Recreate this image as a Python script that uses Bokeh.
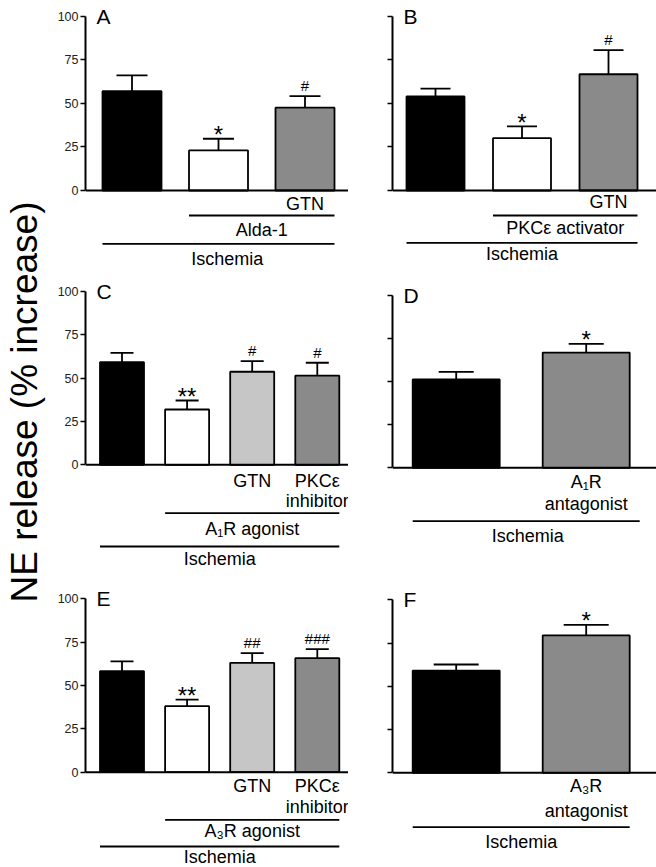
import math
from bokeh.plotting import figure
from bokeh.models import Range1d, FixedTicker, Span, Whisker, TeeHead, ColumnDataSource
from bokeh.layouts import row, column
from bokeh.core.properties import value, field
from bokeh.embed import file_html
from bokeh.resources import INLINE

FONT = "Liberation Sans"
BLACK, WHITE, GRAY, LIGHT = "#000000", "#ffffff", "#8a8a8a", "#c6c6c6"

# ---------------- data ----------------
Y_TITLE = "NE release (% increase)"
Y_TICKS = [0, 25, 50, 75, 100]
GROUP = "Ischemia"

A_values = [57.0, 23.0, 47.5]
A_errors = [9.0, 6.7, 6.7]
A_marks = ["", "*", "#"]
A_fills = [BLACK, WHITE, GRAY]
A_treat = "Alda-1"

B_values = [54.0, 30.0, 66.7]
B_errors = [4.4, 6.8, 13.8]
B_marks = ["", "*", "#"]
B_fills = [BLACK, WHITE, GRAY]
B_treat = "PKCε activator"

C_values = [59.2, 31.9, 53.7, 51.4]
C_errors = [5.4, 5.2, 6.1, 7.5]
C_marks = ["", "**", "#", "#"]
C_fills = [BLACK, WHITE, LIGHT, GRAY]
C_treat = "A₁R agonist"

D_values = [51.3, 66.9]
D_errors = [4.4, 5.0]
D_marks = ["", "*"]
D_fills = [BLACK, GRAY]
D_drug = ["A₁R", "antagonist"]

E_values = [58.3, 38.1, 63.1, 65.8]
E_errors = [5.7, 3.8, 5.6, 5.2]
E_marks = ["", "**", "##", "###"]
E_fills = [BLACK, WHITE, LIGHT, GRAY]
E_treat = "A₃R agonist"

F_values = [59.1, 79.4]
F_errors = [3.5, 6.1]
F_marks = ["", "*"]
F_fills = [BLACK, GRAY]
F_drug = ["A₃R", "antagonist"]

GTN = "GTN"
PKC_INH = ["PKCε", "inhibitor"]


def make_panel(letter, values, errors, marks, fills, g, texts, lines, show_labels):
    n = len(values)
    xs = list(range(1, n + 1))
    frame_w = g["w"] - g["axis"]
    x0 = 1 - g["first"] / g["step"]
    x1 = x0 + frame_w / g["step"]
    s = g["scale"]
    y_top = g["base"] / s
    y_bot = -(g["h"] - g["base"]) / s
    bw = g["bar"] / g["step"]

    p = figure(width=g["w"], height=g["h"], x_range=Range1d(x0, x1),
               y_range=Range1d(y_bot, y_top), x_axis_type=None,
               toolbar_location=None, output_backend="svg",
               min_border_left=g["axis"], min_border_right=0,
               min_border_top=0, min_border_bottom=0)
    p.outline_line_color = None
    p.grid.visible = False
    p.background_fill_color = "white"
    p.border_fill_color = "white"

    ax = p.yaxis[0]
    ax.bounds = (0, 100)
    ax.ticker = FixedTicker(ticks=Y_TICKS, minor_ticks=[])
    ax.major_tick_out = 5
    ax.major_tick_in = 0
    ax.minor_tick_out = 0
    ax.minor_tick_in = 0
    ax.axis_line_width = 2
    ax.axis_line_color = "black"
    ax.major_tick_line_width = 1.5
    ax.major_tick_line_color = "black"
    ax.major_label_standoff = 2
    ax.major_label_text_font = FONT
    ax.major_label_text_font_size = "12.5px"
    ax.major_label_text_color = "#222222" if show_labels else None

    src = ColumnDataSource(dict(x=xs, top=values,
                                hi=[v + e for v, e in zip(values, errors)],
                                fill=fills))
    p.vbar(x="x", top="top", width=bw, source=src, fill_color="fill",
           line_color="black", line_width=1.8)
    p.add_layout(Whisker(base="x", lower="top", upper="hi", source=src,
                         line_width=1.8, line_color="black",
                         upper_head=TeeHead(size=g["cap"], line_width=1.8, line_color="black"),
                         lower_head=None))
    p.add_layout(Span(location=0, dimension="width", line_color="black", line_width=2))

    mk = [(x, v + e, m) for x, v, e, m in zip(xs, values, errors, marks) if m]
    msrc = ColumnDataSource(dict(
        x=[t[0] for t in mk], y=[t[1] for t in mk], text=[t[2] for t in mk],
        size=["24px" if "*" in t[2] else "15px" for t in mk],
        dy=[-4 if "*" in t[2] else -10.5 for t in mk]))
    p.text(x="x", y="y", text="text", source=msrc, text_font=value(FONT),
           text_font_size=field("size"), text_align="center",
           text_baseline="middle", y_offset=field("dy"), text_color="black")

    tsrc = ColumnDataSource(dict(x=[t[0] for t in texts],
                                 y=[-t[1] / s for t in texts],
                                 text=[t[2] for t in texts]))
    p.text(x="x", y="y", text="text", source=tsrc, text_font=value(FONT),
           text_font_size="18px", text_align="center", text_baseline="middle",
           text_color="black")

    lsrc = ColumnDataSource(dict(x0=[ln[0] - bw / 2 for ln in lines],
                                 x1=[ln[1] + bw / 2 + (ln[3] if len(ln) > 3 else 0) / g["step"]
                                     for ln in lines],
                                 y=[-ln[2] / s for ln in lines]))
    p.segment(x0="x0", y0="y", x1="x1", y1="y", source=lsrc,
              line_width=1.8, line_color="black")

    p.text(x=[x0 + 11 / g["step"]], y=[100], text=[letter], text_font=value(FONT),
           text_font_size="21px", text_align="left", text_baseline="middle",
           text_color="black")
    return p


TW, LW, RW = 48, 300, 308
H1, H2, H3 = 280, 295, 292

gA = dict(w=LW, h=H1, axis=37, base=190, scale=1.743, first=46.5, step=86.5, bar=59, cap=31)
gB = dict(w=RW, h=H1, axis=44, base=190, scale=1.743, first=43, step=86.5, bar=58, cap=30)
gC = dict(w=LW, h=H2, axis=37, base=184.3, scale=1.733, first=36.5, step=65.1, bar=44, cap=23)
gD = dict(w=RW, h=H2, axis=44, base=187.3, scale=1.723, first=63.7, step=130, bar=87, cap=35)
gE = dict(w=LW, h=H3, axis=37, base=196.7, scale=1.733, first=36.5, step=65.1, bar=44, cap=23)
gF = dict(w=RW, h=H3, axis=44, base=197.3, scale=1.73, first=63.7, step=130, bar=87, cap=45)

pA = make_panel("A", A_values, A_errors, A_marks, A_fills, gA,
                [(3, 13.3, GTN), (2.5, 39.3, A_treat), (2.1, 68, GROUP)],
                [(2, 3, 25), (1, 3, 53.3)], True)
pB = make_panel("B", B_values, B_errors, B_marks, B_fills, gB,
                [(3, 11, GTN), (2.5, 37.7, B_treat), (2, 63.3, GROUP)],
                [(2, 3, 25), (1, 3, 52.3)], False)
pC = make_panel("C", C_values, C_errors, C_marks, C_fills, gC,
                [(3, 16, GTN), (4, 16, PKC_INH[0]), (4, 36, PKC_INH[1]),
                 (3, 63.7, C_treat), (2.5, 93.7, GROUP)],
                [(2, 4, 48.4), (1, 4, 81.7)], True)
pD = make_panel("D", D_values, D_errors, D_marks, D_fills, gD,
                [(2, 14.4, D_drug[0]), (2, 36, D_drug[1]), (1.55, 67.7, GROUP)],
                [(1, 2, 53.4, 10)], False)
pE = make_panel("E", E_values, E_errors, E_marks, E_fills, gE,
                [(3, 13.3, GTN), (4, 13.3, PKC_INH[0]), (4, 35, PKC_INH[1]),
                 (3, 59, E_treat), (2.5, 85, GROUP)],
                [(2, 4, 47.6), (1, 4, 74.3)], True)
pF = make_panel("F", F_values, F_errors, F_marks, F_fills, gF,
                [(2, 12.7, F_drug[0]), (2, 37.7, F_drug[1]), (1.5, 69.4, GROUP)],
                [(1, 2, 54.4)], False)

TH = H1 + H2 + H3
pt = figure(width=TW, height=TH, x_range=Range1d(0, TW), y_range=Range1d(0, TH),
            x_axis_type=None, y_axis_type=None, toolbar_location=None,
            output_backend="svg", min_border=0)
pt.outline_line_color = None
pt.grid.visible = False
pt.text(x=[24], y=[TH - 401.5], text=[Y_TITLE], angle=math.pi / 2,
        text_font=value(FONT), text_font_size="37px", text_align="center",
        text_baseline="middle", text_color="black")

layout = row(pt, column(row(pA, pB), row(pC, pD), row(pE, pF)))

open("out.html", "w").write(file_html(layout, INLINE))
